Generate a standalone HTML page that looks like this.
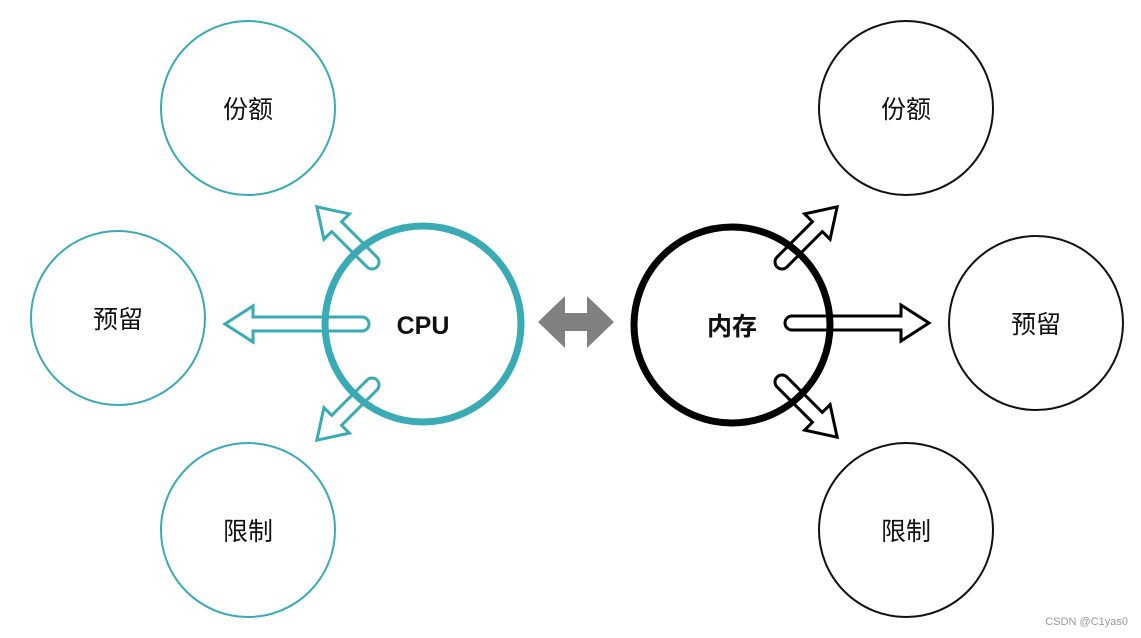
<!DOCTYPE html>
<html><head><meta charset="utf-8"><style>
html,body{margin:0;padding:0;background:#fff;}
svg{display:block}
text{font-family:"Liberation Sans","Noto Sans CJK SC",sans-serif;}
</style></head><body>
<svg width="1141" height="638" viewBox="0 0 1141 638" xmlns="http://www.w3.org/2000/svg">
<defs>
<path id="a1" d="M0,-7 L109,-7 L109,-18 L137,0 L109,18 L109,7 L0,7 A7,7 0 0 1 0,-7 Z"/>
<path id="a2" d="M0,-7 L50,-7 L50,-18 L78,0 L50,18 L50,7 L0,7 A7,7 0 0 1 0,-7 Z"/>
</defs>
<g fill="none" stroke="#3aaab5" stroke-width="2">
<circle cx="248" cy="108" r="87"/>
<circle cx="118" cy="318" r="87"/>
<circle cx="248" cy="530" r="87"/>
</g>
<g fill="none" stroke="#111" stroke-width="2">
<circle cx="906" cy="108" r="87"/>
<circle cx="1036" cy="323" r="87"/>
<circle cx="906" cy="530" r="87"/>
</g>
<g fill="#fff" stroke="#3aaab5" stroke-width="3" stroke-linejoin="miter">
<use href="#a1" transform="translate(362,324) rotate(180)"/>
<use href="#a2" transform="translate(372,262) rotate(-135)"/>
<use href="#a2" transform="translate(372,385) rotate(135)"/>
</g>
<circle cx="423" cy="324" r="98" fill="none" stroke="#3aaab5" stroke-width="7"/>
<g fill="#fff" stroke="#000" stroke-width="3">
<use href="#a1" transform="translate(792,323)"/>
<use href="#a2" transform="translate(782,262) rotate(-45)"/>
<use href="#a2" transform="translate(782,382) rotate(45)"/>
</g>
<circle cx="732" cy="325" r="98" fill="none" stroke="#000" stroke-width="7"/>
<path d="M538,322 L565,296 L565,313 L587,313 L587,296 L614,322 L587,348 L587,331 L565,331 L565,348 Z" fill="#808080"/>
<g font-size="25" text-anchor="middle" fill="#111">
<text x="248" y="118">份额</text>
<text x="118" y="328">预留</text>
<text x="248" y="540">限制</text>
<text x="906" y="118">份额</text>
<text x="1036" y="333">预留</text>
<text x="906" y="540">限制</text>
<text x="423" y="334" font-weight="bold">CPU</text>
<text x="732" y="335" font-weight="bold">内存</text>
</g>
<text x="1128" y="625" font-size="11" text-anchor="end" fill="#999">CSDN @C1yas0</text>
</svg>
</body></html>
